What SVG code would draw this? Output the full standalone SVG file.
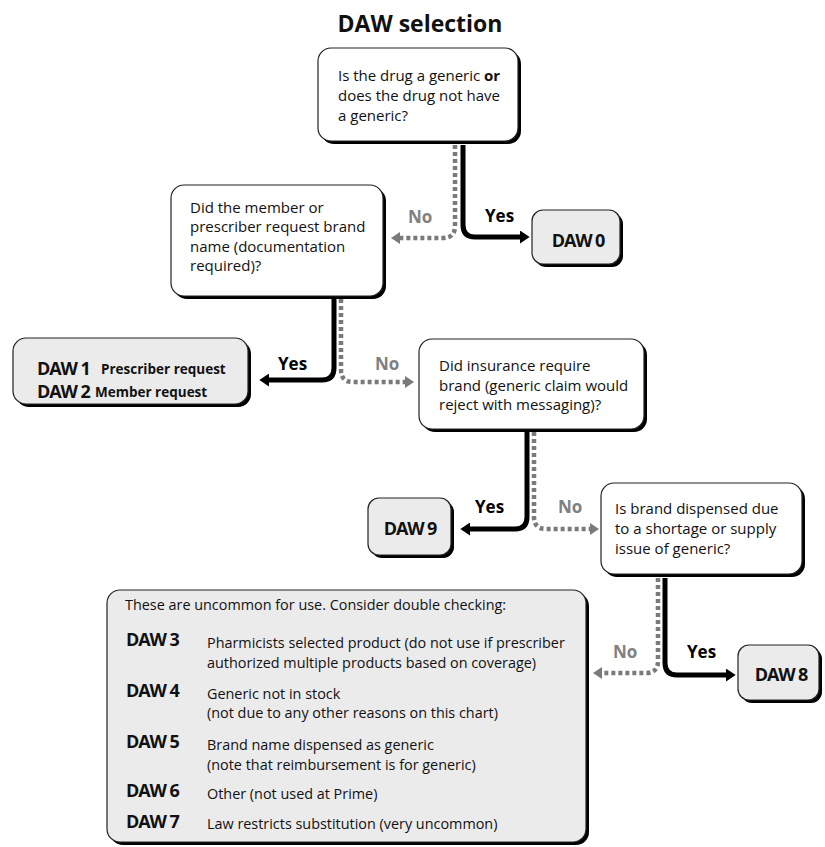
<svg xmlns="http://www.w3.org/2000/svg" width="825" height="847" viewBox="0 0 825 847">
<style>
  text { font-family: "Open Sans", "Noto Sans", "Liberation Sans", sans-serif; fill: #111; }
  .title { font-size: 23px; font-weight: 700; }
  .q { font-size: 15px; }
  .daw { font-size: 18px; font-weight: 700; letter-spacing: -1.1px; }
  .dawsub { font-size: 13.5px; font-weight: 700; }
  .desc { font-size: 14.4px; }
  .yes { font-size: 17px; font-weight: 700; fill: #000; }
  .no { font-size: 17px; font-weight: 700; fill: #808080; }
  .shadow { fill: #000; }
  .qbox { fill: #fff; stroke: #222; stroke-width: 1.2; }
  .abox { fill: #ebebeb; stroke: #222; stroke-width: 1.2; }
  .yesline { fill: none; stroke: #000; stroke-width: 5; }
  .noline { fill: none; stroke: #7a7a7a; stroke-width: 4.5; stroke-dasharray: 4 3; }
</style>
<defs>
  <marker id="ah-yes" viewBox="0 0 9 12" markerWidth="10" markerHeight="13" refX="1" refY="6" orient="auto" markerUnits="userSpaceOnUse">
    <path d="M0,0 L9,6 L0,12 z" fill="#000"/>
  </marker>
  <marker id="ah-no" viewBox="0 0 9 12" markerWidth="9" markerHeight="12" refX="1" refY="6" orient="auto" markerUnits="userSpaceOnUse">
    <path d="M0,0 L9,6 L0,12 z" fill="#7a7a7a"/>
  </marker>
</defs>

<text class="title" x="420" y="32" text-anchor="middle">DAW selection</text>

<g id="connectors">
  <path class="noline" d="M455,145 V226 Q455,238 443,238 H399" marker-end="url(#ah-no)"/>
  <path class="yesline" d="M463,145 V225 Q463,237 475,237 H521" marker-end="url(#ah-yes)"/>
  <text class="no" x="408" y="223">No</text>
  <text class="yes" x="485" y="222">Yes</text>

  <path class="yesline" d="M334,299 V368 Q334,380 322,380 H268" marker-end="url(#ah-yes)"/>
  <path class="noline" d="M341,299 V370 Q341,382 353,382 H406" marker-end="url(#ah-no)"/>
  <text class="yes" x="278" y="370">Yes</text>
  <text class="no" x="375" y="370">No</text>

  <path class="yesline" d="M527,432 V517 Q527,529 515,529 H469" marker-end="url(#ah-yes)"/>
  <path class="noline" d="M534,432 V517 Q534,529 546,529 H591" marker-end="url(#ah-no)"/>
  <text class="yes" x="475" y="513">Yes</text>
  <text class="no" x="558" y="513">No</text>

  <path class="noline" d="M658,578 V661 Q658,673 646,673 H601" marker-end="url(#ah-no)"/>
  <path class="yesline" d="M665,578 V663 Q665,675 677,675 H727" marker-end="url(#ah-yes)"/>
  <text class="no" x="613" y="658">No</text>
  <text class="yes" x="687" y="658">Yes</text>
</g>

<g id="q1">
  <rect class="shadow" x="321" y="51" width="200" height="93" rx="13"/>
  <rect class="qbox" x="318" y="48" width="200" height="93" rx="13"/>
  <text class="q" x="338" y="81">Is the drug a generic <tspan font-weight="700">or</tspan></text>
  <text class="q" x="338" y="101">does the drug not have</text>
  <text class="q" x="338" y="121">a generic?</text>
</g>

<g id="daw0">
  <rect class="shadow" x="535" y="213" width="88" height="54" rx="11"/>
  <rect class="abox" x="532" y="210" width="88" height="54" rx="11"/>
  <text class="daw" x="578" y="247" text-anchor="middle">DAW 0</text>
</g>

<g id="q2">
  <rect class="shadow" x="174" y="188" width="212" height="111" rx="13"/>
  <rect class="qbox" x="171" y="185" width="212" height="111" rx="13"/>
  <text class="q" x="190" y="213">Did the member or</text>
  <text class="q" x="190" y="232">prescriber request brand</text>
  <text class="q" x="190" y="252">name (documentation</text>
  <text class="q" x="190" y="271">required)?</text>
</g>

<g id="daw12">
  <rect class="shadow" x="16" y="341" width="235" height="66" rx="13"/>
  <rect class="abox" x="13" y="338" width="235" height="66" rx="13"/>
  <text class="daw" x="37" y="375">DAW 1</text>
  <text class="dawsub" x="101" y="374">Prescriber request</text>
  <text class="daw" x="37" y="398">DAW 2</text>
  <text class="dawsub" x="95" y="397">Member request</text>
</g>

<g id="q3">
  <rect class="shadow" x="422" y="342" width="225" height="90" rx="13"/>
  <rect class="qbox" x="419" y="339" width="225" height="90" rx="13"/>
  <text class="q" x="439" y="371">Did insurance require</text>
  <text class="q" x="439" y="391">brand (generic claim would</text>
  <text class="q" x="439" y="410">reject with messaging)?</text>
</g>

<g id="daw9">
  <rect class="shadow" x="371" y="501" width="83" height="57" rx="11"/>
  <rect class="abox" x="368" y="498" width="83" height="57" rx="11"/>
  <text class="daw" x="410" y="535" text-anchor="middle">DAW 9</text>
</g>

<g id="q4">
  <rect class="shadow" x="604" y="486" width="201" height="91" rx="13"/>
  <rect class="qbox" x="601" y="483" width="201" height="91" rx="13"/>
  <text class="q" x="615" y="514">Is brand dispensed due</text>
  <text class="q" x="615" y="534">to a shortage or supply</text>
  <text class="q" x="615" y="554">issue of generic?</text>
</g>

<g id="daw8">
  <rect class="shadow" x="741" y="648" width="81" height="55" rx="11"/>
  <rect class="abox" x="738" y="645" width="81" height="55" rx="11"/>
  <text class="daw" x="781" y="681" text-anchor="middle">DAW 8</text>
</g>

<g id="uncommon">
  <rect class="shadow" x="110" y="593" width="479" height="252" rx="13"/>
  <rect class="abox" x="107" y="590" width="479" height="252" rx="13"/>
  <text class="desc" x="125" y="610">These are uncommon for use. Consider double checking:</text>
  <text class="daw" x="126" y="646">DAW 3</text>
  <text class="desc" x="207" y="648">Pharmicists selected product (do not use if prescriber</text>
  <text class="desc" x="207" y="668">authorized multiple products based on coverage)</text>
  <text class="daw" x="126" y="697">DAW 4</text>
  <text class="desc" x="207" y="699">Generic not in stock</text>
  <text class="desc" x="207" y="718">(not due to any other reasons on this chart)</text>
  <text class="daw" x="126" y="748">DAW 5</text>
  <text class="desc" x="207" y="750">Brand name dispensed as generic</text>
  <text class="desc" x="207" y="770">(note that reimbursement is for generic)</text>
  <text class="daw" x="126" y="797">DAW 6</text>
  <text class="desc" x="207" y="799">Other (not used at Prime)</text>
  <text class="daw" x="126" y="828">DAW 7</text>
  <text class="desc" x="207" y="829">Law restricts substitution (very uncommon)</text>
</g>
</svg>
